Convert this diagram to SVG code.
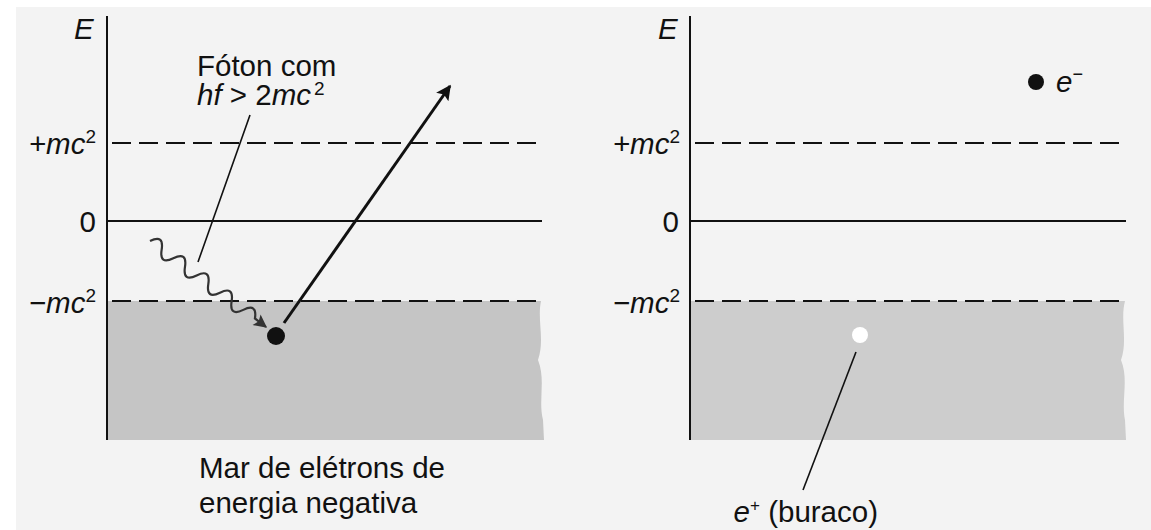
<svg xmlns="http://www.w3.org/2000/svg" width="1151" height="530" viewBox="0 0 1151 530">
<defs>
<style>
.t{font-family:"Liberation Sans",Arial,sans-serif;fill:#111;font-size:29.5px}
.i{font-style:italic}
.sup{font-size:19px}
.ax{stroke:#111;stroke-width:2;fill:none}
.ds{stroke:#111;stroke-width:2;stroke-dasharray:19,8;fill:none}
.ln{stroke:#111;stroke-width:1.6;fill:none}
</style>
<marker id="ah" viewBox="0 0 10 10" refX="9" refY="5" markerWidth="6.5" markerHeight="5" orient="auto" markerUnits="strokeWidth">
<path d="M0,0 L10,5 L0,10 L2,5 z" fill="#111"/>
</marker>
<marker id="ah2" viewBox="0 0 10 10" refX="9" refY="5" markerWidth="8" markerHeight="6" orient="auto" markerUnits="strokeWidth">
<path d="M0,0 L10,5 L0,10 L2,5 z" fill="#333"/>
</marker>
</defs>
<rect width="1151" height="530" fill="#f3f3f3"/>
<rect width="1151" height="7" fill="#fff"/>
<rect width="16" height="530" fill="#fff"/>

<g id="left-panel">
<path d="M107,301 H541 C537,320 545,340 538,360 C546,380 538,400 543,420 L544,440 H107 Z" fill="#c5c5c5"/>
<line class="ax" x1="107" y1="16" x2="107" y2="440"/>
<line class="ds" x1="112" y1="143" x2="542" y2="143"/>
<line class="ax" x1="107" y1="221" x2="542" y2="221"/>
<line class="ds" x1="112" y1="301" x2="542" y2="301"/>
<text class="t i" x="74" y="39" font-size="27">E</text>
<text class="t" x="96" y="154" text-anchor="end"><tspan class="i">+mc</tspan><tspan class="sup" dy="-11">2</tspan></text>
<text class="t" x="96" y="232" text-anchor="end">0</text>
<text class="t" x="96" y="313" text-anchor="end"><tspan class="i">−mc</tspan><tspan class="sup" dy="-11">2</tspan></text>
</g>

<g id="right-panel">
<path d="M690,301 H1125 C1120,320 1128,340 1121,360 C1129,380 1121,400 1125,420 L1126,440 H690 Z" fill="#cdcdcd"/>
<line class="ax" x1="690" y1="16" x2="690" y2="440"/>
<line class="ds" x1="695" y1="143" x2="1126" y2="143"/>
<line class="ax" x1="690" y1="221" x2="1126" y2="221"/>
<line class="ds" x1="695" y1="301" x2="1126" y2="301"/>
<text class="t i" x="658" y="39" font-size="27">E</text>
<text class="t" x="680" y="154" text-anchor="end"><tspan class="i">+mc</tspan><tspan class="sup" dy="-11">2</tspan></text>
<text class="t" x="679" y="232" text-anchor="end">0</text>
<text class="t" x="680" y="313" text-anchor="end"><tspan class="i">−mc</tspan><tspan class="sup" dy="-11">2</tspan></text>
</g>

<g id="photon-label">
<text class="t" x="197" y="76">Fóton com<tspan x="197" dy="29" class="i">hf</tspan> &gt; 2<tspan class="i">mc</tspan><tspan class="sup" dx="3" dy="-10">2</tspan></text>
</g>

<g id="electron-sea-label">
<text class="t" x="199" y="478">Mar de elétrons de<tspan x="199" dy="35">energia negativa</tspan></text>
</g>

<g id="electron-bound">
<circle cx="276" cy="336" r="9" fill="#111"/>
</g>

<g id="electron-free">
<circle cx="1036" cy="82" r="8" fill="#111"/>
<text class="t i" x="1056" y="92" font-size="27">e<tspan font-size="18" dy="-12" font-style="normal">−</tspan></text>
</g>

<g id="hole">
<circle cx="860" cy="335" r="8" fill="#fff"/>
<text class="t" x="878" y="522" font-size="28" text-anchor="end"><tspan class="i">e</tspan><tspan font-size="17" dy="-11">+</tspan><tspan dy="11"> (buraco)</tspan></text>
</g>

<g id="connectors">
<line class="ln" x1="250" y1="115" x2="198" y2="262"/>
<path d="M150,241 Q164.1,234 161.66,249.61 T173.32,258.22 T184.98,266.83 T196.64,275.44 T208.3,284.05 T219.96,292.66 T231.62,301.27 T243.28,309.88 T254.94,318.49 L266,327" stroke="#333" stroke-width="2.2" fill="none" marker-end="url(#ah2)"/>
<line x1="284" y1="323" x2="450" y2="86" stroke="#111" stroke-width="3" marker-end="url(#ah)"/>
<line class="ln" x1="856" y1="352" x2="803" y2="490"/>
</g>
</svg>
